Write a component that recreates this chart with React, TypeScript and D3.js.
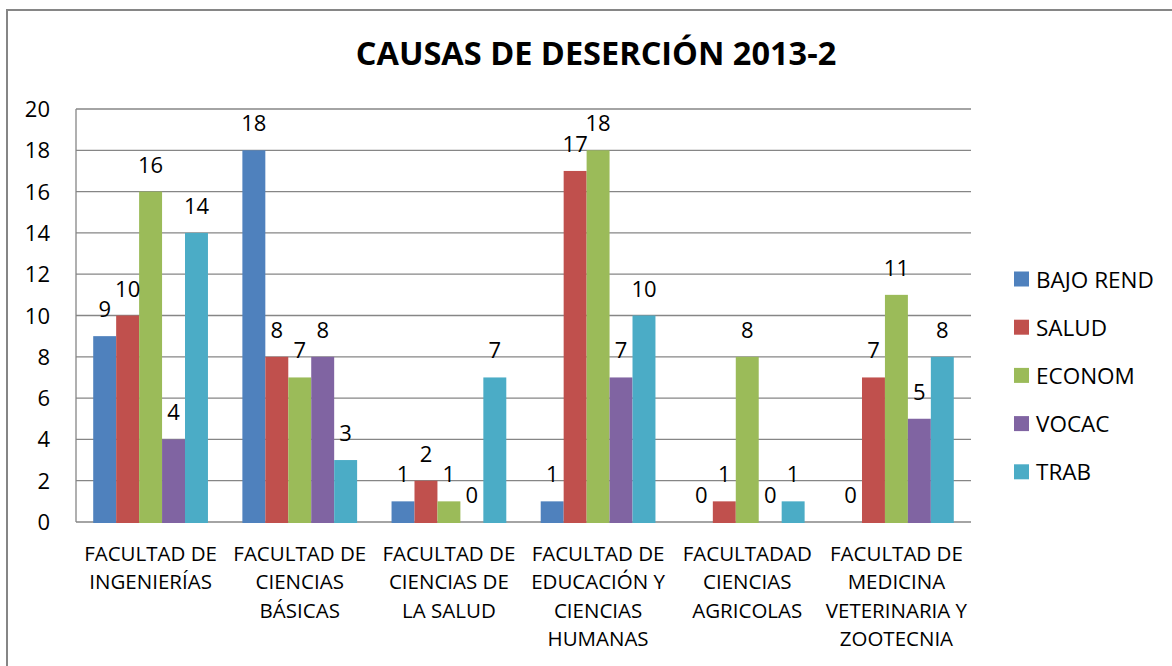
import React from 'react';
import * as d3 from 'd3';

const categories = [
  ['FACULTAD DE', 'INGENIERÍAS'],
  ['FACULTAD DE', 'CIENCIAS', 'BÁSICAS'],
  ['FACULTAD DE', 'CIENCIAS DE', 'LA SALUD'],
  ['FACULTAD DE', 'EDUCACIÓN Y', 'CIENCIAS', 'HUMANAS'],
  ['FACULTADAD', 'CIENCIAS', 'AGRICOLAS'],
  ['FACULTAD DE', 'MEDICINA', 'VETERINARIA Y', 'ZOOTECNIA'],
];
const seriesNames = ['BAJO REND', 'SALUD', 'ECONOM', 'VOCAC', 'TRAB'];
const bajoRend = [9, 18, 1, 1, 0, 0];
const salud = [10, 8, 2, 17, 1, 7];
const econom = [16, 7, 1, 18, 8, 11];
const vocac = [4, 8, 0, 7, 0, 5];
const trab = [14, 3, 7, 10, 1, 8];
const yTicks = [0, 2, 4, 6, 8, 10, 12, 14, 16, 18, 20];
const colors = ['#4F81BD', '#C0504D', '#9BBB59', '#8064A2', '#4BACC6'];

const series = [bajoRend, salud, econom, vocac, trab];
const FONT = "'Open Sans', sans-serif";

export default function App() {
  const W = 1172, H = 666;
  const plot = { left: 76, right: 971, top: 109, bottom: 522 };

  const x0 = d3.scaleBand<number>()
    .domain(categories.map((_, i) => i))
    .range([plot.left, plot.right]);
  const gap = 1.5;
  const barW = x0.bandwidth() / (series.length + gap);
  const x1 = (s: number) => (gap / 2) * barW + s * barW;
  const y = d3.scaleLinear().domain([0, 20]).range([plot.bottom, plot.top]);

  return (
    <div style={{ position: 'fixed', left: 0, top: 0 }}>
      <svg width={W} height={H} style={{ display: 'block', background: '#fff' }}>
        <rect x={7} y={10} width={W + 20} height={H + 20} fill="#fff" stroke="#868686" strokeWidth={2} />
        <text x={596} y={65} textAnchor="middle" fontFamily={FONT} fontWeight={700}
          fontSize={32.5} fill="#000">CAUSAS DE DESERCIÓN 2013-2</text>

        {/* gridlines */}
        {yTicks.map(t => (
          <line key={t} x1={plot.left} x2={plot.right} y1={y(t)} y2={y(t)} stroke="#868686" strokeWidth={1.3} />
        ))}
        {/* y tick labels */}
        {yTicks.map(t => (
          <text key={'l' + t} x={50} y={y(t) + 8} textAnchor="end" fontFamily={FONT}
            fontSize={22} fill="#000">{t}</text>
        ))}

        {/* bars */}
        {series.map((vals, s) => (
          <g key={s}>
            {vals.map((v, i) => v > 0 && (
              <rect key={i} x={(x0(i) as number) + x1(s)} width={barW} y={y(v)}
                height={y(0) - y(v) + 1} fill={colors[s]} />
            ))}
          </g>
        ))}
        {/* axis line */}
        <line x1={plot.left} x2={plot.left} y1={plot.top} y2={plot.bottom} stroke="#868686" strokeWidth={1.3} />

        {/* value labels */}
        {series.map((vals, s) => (
          <g key={'v' + s}>
            {vals.map((v, i) => (
              <text key={i} x={(x0(i) as number) + x1(s) + barW / 2} y={y(v) - 19}
                textAnchor="middle" fontFamily={FONT} fontSize={22} fill="#000">{v}</text>
            ))}
          </g>
        ))}

        {/* category labels */}
        {categories.map((lines, i) => (
          <text key={'c' + i} textAnchor="middle" fontFamily={FONT} fontSize={20.5} fill="#000">
            {lines.map((ln, k) => (
              <tspan key={k} x={(x0(i) as number) + x0.bandwidth() / 2} y={561 + k * 28.3}>{ln}</tspan>
            ))}
          </text>
        ))}

        {/* legend */}
        {seriesNames.map((n, s) => (
          <g key={'lg' + s} transform={`translate(1014, ${279 + s * 48.2})`}>
            <rect x={0} y={-7.5} width={15} height={15} fill={colors[s]} />
            <text x={22} y={8.5} fontFamily={FONT} fontSize={22.5} fill="#000">{n}</text>
          </g>
        ))}
      </svg>
    </div>
  );
}
